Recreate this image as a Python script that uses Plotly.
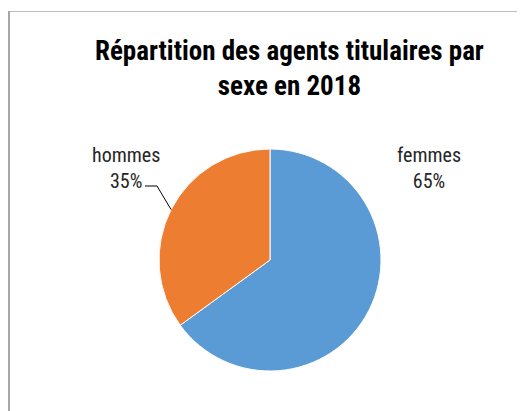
import math
import plotly.graph_objects as go

labels = ["femmes", "hommes"]
values = [65, 35]
colors = ["#5B9BD5", "#ED7D31"]
title_lines = ["Répartition des agents titulaires par", "sexe en 2018"]

# page has an 8px body margin; figure sized to fill the remaining window
OFF = 8
W, H = 525 - OFF, 411 - OFF


def px(x):
    return (x - OFF) / W


def py(y):
    return 1 - (y - OFF) / H


cx, cy, r = 270, 260, 111  # pie geometry in window pixels

FONT = "Liberation Sans Narrow, Ubuntu Condensed, Roboto Condensed, Roboto, sans-serif"

fig = go.Figure(go.Pie(
    labels=labels, values=values, sort=False, direction="clockwise", rotation=0,
    marker=dict(colors=colors, line=dict(color="white", width=1)),
    textinfo="none", hoverinfo="label+percent", showlegend=False,
    domain=dict(x=[px(cx - r), px(cx + r)], y=[py(cy + r), py(cy - r)]),
))

total = sum(values)
pcts = [round(100 * v / total) for v in values]

label_pos = {"femmes": (429, 168), "hommes": (126, 168)}
for lab, p in zip(labels, pcts):
    x, y = label_pos[lab]
    fig.add_annotation(x=px(x), y=py(y), xref="paper", yref="paper",
                       text=f"{lab}<br>{p}%", showarrow=False,
                       font=dict(family=FONT, size=20, color="#262626"),
                       align="center", xanchor="center", yanchor="middle")

# leader line for hommes, end point computed from slice mid-angle
cum = 0
for lab, v in zip(labels, values):
    if lab == "hommes":
        mid = (cum + v / 2) / total * 360
        ang = math.radians(90 - mid)
        ex = cx + r * math.cos(ang)
        ey = cy - r * math.sin(ang)
        fig.add_shape(type="path", xref="paper", yref="paper",
                      path=f"M {px(145)},{py(186)} L {px(157)},{py(186)} L {px(ex)},{py(ey)}",
                      line=dict(color="black", width=1))
    cum += v

# frame
fig.add_shape(type="line", xref="paper", yref="paper", x0=px(10), x1=1, y0=py(11.5), y1=py(11.5),
              line=dict(color="#BFBFBF", width=1))
fig.add_shape(type="line", xref="paper", yref="paper", x0=px(9), x1=px(9), y0=0, y1=py(11),
              line=dict(color="#A6A6A6", width=2))

fig.add_annotation(x=px(289), y=py(33), xref="paper", yref="paper",
                   text="<b>" + "<br>".join(title_lines) + "</b>", showarrow=False,
                   xanchor="center", yanchor="top", align="center",
                   font=dict(family=FONT, size=27, color="black"))

fig.update_layout(
    width=W, height=H, margin=dict(l=0, r=0, t=0, b=0),
    paper_bgcolor="white", plot_bgcolor="white",
)

fig.write_html("out.html")
